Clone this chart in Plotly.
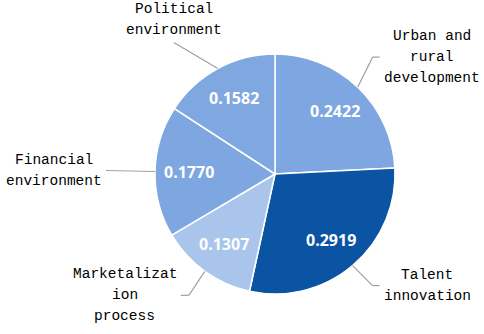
import math
import plotly.graph_objects as go

# ---- data ----
categories = ["Urban and rural development", "Talent innovation", "Marketalization process",
              "Financial environment", "Political environment"]
label_lines = [["Urban and", "rural", "development"], ["Talent", "innovation"],
               ["Marketalizat", "ion", "process"], ["Financial", "environment"],
               ["Political", "environment"]]
weights = [0.2422, 0.2919, 0.1307, 0.1770, 0.1582]

# ---- style ----
colors = ["#7EA6E0", "#0B54A4", "#A9C5EC", "#7EA6E0", "#80A8E0"]
W, H = 484, 334
cx, cy, R = 275, 174, 120          # pie centre / radius in pixels
leader = [(15, -30), (20, 20), (-16, 24), (-49, -1), (-44, -26)]   # leader offsets (px)
tail = [7, 7, -8, 0, 0]
anchor = ["left", "left", "right", "right", "top"]
value_r = 0.72
label_size = 14.5
line_gap = 21

def px(x):
    return x / W

def py(y):
    return 1 - y / H

fig = go.Figure(go.Pie(
    labels=categories,
    values=weights,
    sort=False,
    direction="clockwise",
    rotation=0,
    marker=dict(colors=colors, line=dict(color="white", width=1.5)),
    textinfo="none",
    hoverinfo="label+value",
    showlegend=False,
    domain=dict(x=[px(cx - R), px(cx + R)], y=[py(cy + R), py(cy - R)]),
))

shapes, annotations = [], []
total = sum(weights)
cum = 0.0
for i, w in enumerate(weights):
    mid = (cum + w / 2) / total * 2 * math.pi
    cum += w
    # value label inside the slice
    vx, vy = cx + R * value_r * math.sin(mid), cy - R * value_r * math.cos(mid)
    annotations.append(dict(x=px(vx), y=py(vy), xref="paper", yref="paper",
                            text=f"{w:.4f}", showarrow=False, xanchor="center", yanchor="middle",
                            font=dict(family="Open Sans", size=16, color="white", weight="bold")))
    # leader line
    sx, sy = cx + R * math.sin(mid), cy - R * math.cos(mid)
    ex, ey = sx + leader[i][0], sy + leader[i][1]
    tx, ty = ex + tail[i], ey
    line = dict(color="#A0A0A0", width=1.2)
    shapes.append(dict(type="line", xref="paper", yref="paper",
                       x0=px(sx), y0=py(sy), x1=px(ex), y1=py(ey), line=line))
    if tail[i]:
        shapes.append(dict(type="line", xref="paper", yref="paper",
                           x0=px(ex), y0=py(ey), x1=px(tx), y1=py(ty), line=line))
    # category label block, centre-aligned lines
    lines = label_lines[i]
    n = len(lines)
    bw = max(len(s) for s in lines) * 0.6 * label_size
    if anchor[i] == "left":
        bx = tx + 4 + bw / 2
        ys = [ty + (k - (n - 1) / 2) * line_gap for k in range(n)]
    elif anchor[i] == "right":
        bx = tx - 4 - bw / 2
        ys = [ty + (k - (n - 1) / 2) * line_gap for k in range(n)]
    else:
        bx = tx
        ys = [ty - 13 - (n - 1 - k) * line_gap for k in range(n)]
    for s, yy in zip(lines, ys):
        annotations.append(dict(x=px(bx), y=py(yy), xref="paper", yref="paper",
                                text=s, showarrow=False, xanchor="center", yanchor="middle",
                                font=dict(family="Liberation Mono", size=label_size,
                                          color="#000000")))

fig.update_layout(
    width=W, height=H,
    margin=dict(l=0, r=0, t=0, b=0),
    paper_bgcolor="white",
    plot_bgcolor="white",
    shapes=shapes,
    annotations=annotations,
)

fig.write_html("out.html", config={"displayModeBar": False},
               post_script="document.body.style.margin='0';")
